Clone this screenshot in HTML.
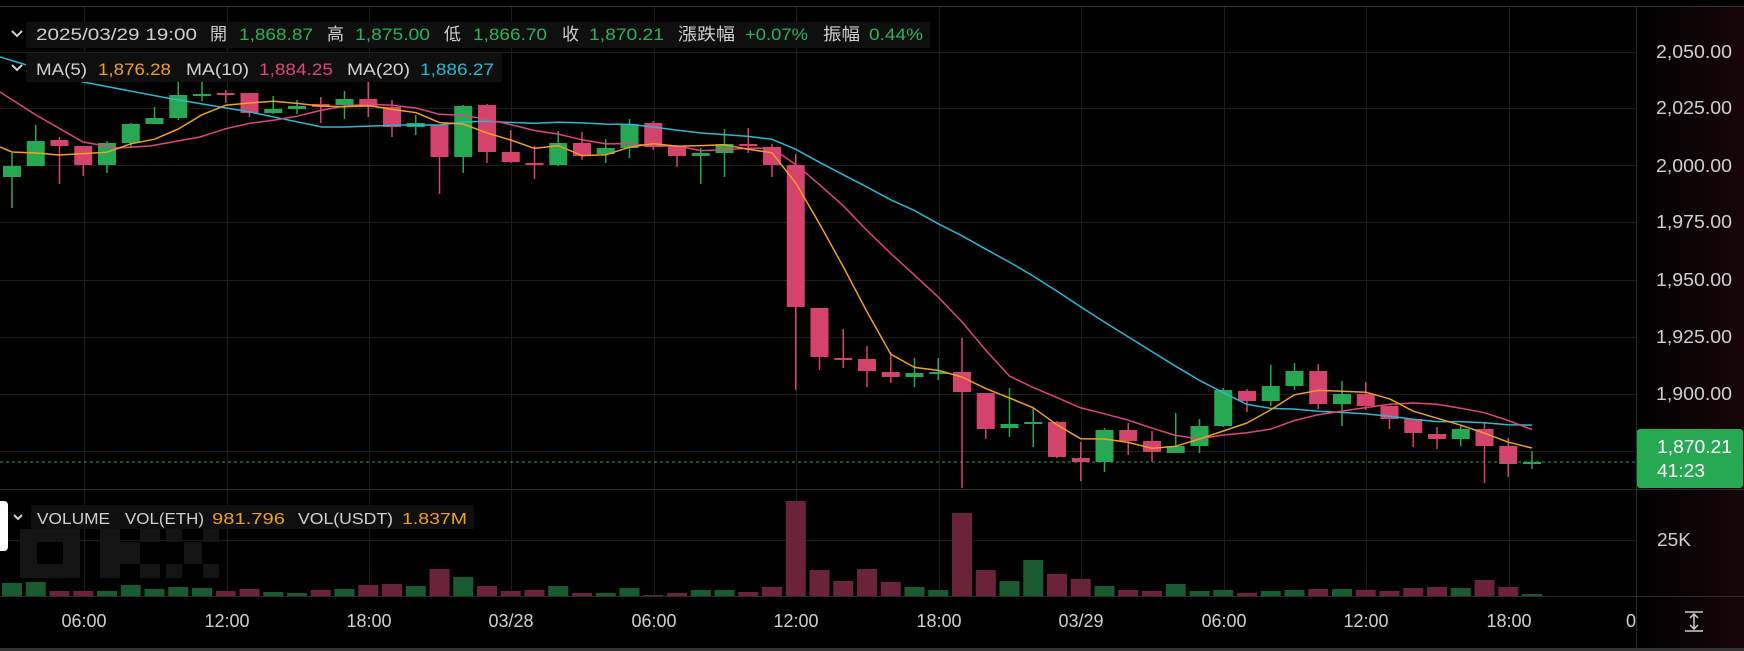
<!DOCTYPE html>
<html><head><meta charset="utf-8">
<style>
html,body{margin:0;padding:0;background:#000;width:1744px;height:651px;overflow:hidden}
svg{display:block}
text{font-family:"Liberation Sans","Noto Sans CJK TC",sans-serif}
</style></head>
<body>
<svg id="s" width="1744" height="651" viewBox="0 0 1744 651" xmlns="http://www.w3.org/2000/svg">
<defs>
<linearGradient id="ax" x1="0" x2="1" y1="0" y2="0">
<stop offset="0" stop-color="#000"/><stop offset="1" stop-color="#170609"/>
</linearGradient>
</defs>
<rect x="0" y="0" width="1744" height="651" fill="#000"/>
<rect x="1637" y="6" width="107" height="642" fill="url(#ax)"/>
<g id="grid"></g>
<!-- watermark -->
<g fill="#141414">
<rect x="20" y="529" width="60" height="49"/><rect x="100" y="529" width="20" height="49"/><rect x="120" y="542" width="20" height="22"/><rect x="140" y="529" width="20" height="13"/><rect x="140" y="564" width="20" height="14"/>
<rect x="166" y="529" width="16" height="13"/><rect x="203" y="529" width="16" height="13"/><rect x="184" y="542" width="18" height="22"/><rect x="166" y="564" width="16" height="14"/><rect x="203" y="564" width="16" height="14"/>
</g>
<rect x="37" y="542" width="26" height="22" fill="#000"/>
<g id="vol"></g>
<g id="cdl"></g>
<g id="ma" fill="none" stroke-width="1.5" stroke-linejoin="round"></g>
<line x1="0" y1="462" x2="1636" y2="462" stroke="#28a852" stroke-width="1" stroke-dasharray="3,3"/>
<!-- separators -->
<line x1="0" y1="6.5" x2="1744" y2="6.5" stroke="#333"/>
<line x1="0" y1="489.5" x2="1744" y2="489.5" stroke="#2c2c2c"/>
<line x1="0" y1="596.5" x2="1744" y2="596.5" stroke="#2c2c2c"/>
<line x1="1636.5" y1="6" x2="1636.5" y2="648" stroke="#2c2c2c"/>
<rect x="0" y="648" width="1744" height="3" fill="#333"/>
<!-- price axis -->
<g fill="#cfcfcf" font-size="18" text-anchor="end">
<text x="1732" y="58" textLength="76" lengthAdjust="spacingAndGlyphs">2,050.00</text>
<text x="1732" y="114" textLength="76" lengthAdjust="spacingAndGlyphs">2,025.00</text>
<text x="1732" y="172" textLength="76" lengthAdjust="spacingAndGlyphs">2,000.00</text>
<text x="1732" y="228" textLength="76" lengthAdjust="spacingAndGlyphs">1,975.00</text>
<text x="1732" y="286" textLength="76" lengthAdjust="spacingAndGlyphs">1,950.00</text>
<text x="1732" y="343" textLength="76" lengthAdjust="spacingAndGlyphs">1,925.00</text>
<text x="1732" y="400" textLength="76" lengthAdjust="spacingAndGlyphs">1,900.00</text>
<text x="1691" y="546" textLength="34" lengthAdjust="spacingAndGlyphs">25K</text>
</g>
<rect x="1637" y="429" width="106" height="59" rx="3" fill="#27a852"/>
<g fill="#fff" font-size="18">
<text x="1657" y="453" textLength="75" lengthAdjust="spacingAndGlyphs">1,870.21</text>
<text x="1657" y="477" textLength="48" lengthAdjust="spacingAndGlyphs">41:23</text>
</g>
<!-- time axis -->
<g fill="#cfcfcf" font-size="18" text-anchor="middle">
<text x="84" y="627">06:00</text><text x="227" y="627">12:00</text><text x="369" y="627">18:00</text>
<text x="511" y="627">03/28</text><text x="654" y="627">06:00</text><text x="796" y="627">12:00</text>
<text x="939" y="627">18:00</text><text x="1081" y="627">03/29</text><text x="1224" y="627">06:00</text>
<text x="1366" y="627">12:00</text><text x="1509" y="627">18:00</text>
<text x="1636" y="627" text-anchor="end">0</text>
</g>
<g stroke="#cfcfcf" stroke-width="1.5" fill="none">
<line x1="1685" y1="612" x2="1703" y2="612"/><line x1="1685" y1="631" x2="1703" y2="631"/>
<line x1="1694" y1="614" x2="1694" y2="629"/>
<polyline points="1690,618 1694,614 1698,618"/><polyline points="1690,625 1694,629 1698,625"/>
</g>
<!-- legends -->
<rect x="26" y="22" width="904" height="26" fill="#0f0f0f"/>
<rect x="26" y="53" width="476" height="29" fill="#0f0f0f"/>
<rect x="31" y="505" width="443" height="24" fill="#0f0f0f"/>
<g stroke="#d0d0d0" stroke-width="2" fill="none">
<polyline points="12,31 17,36 22,31"/>
<polyline points="12,65 17,70 22,65"/>
<polyline points="14,515 18,519 22,515"/>
</g>
<rect x="-6" y="501" width="14" height="50" rx="4" fill="#fff"/>
<g font-size="17">
<text x="36" y="40" fill="#d0d0d0" textLength="161" lengthAdjust="spacingAndGlyphs">2025/03/29 19:00</text>
<text x="210" y="40" fill="#d0d0d0">開</text>
<text x="239" y="40" fill="#2bb35b" textLength="74" lengthAdjust="spacingAndGlyphs">1,868.87</text>
<text x="327" y="40" fill="#d0d0d0">高</text>
<text x="355" y="40" fill="#2bb35b" textLength="75" lengthAdjust="spacingAndGlyphs">1,875.00</text>
<text x="444" y="40" fill="#d0d0d0">低</text>
<text x="473" y="40" fill="#2bb35b" textLength="74" lengthAdjust="spacingAndGlyphs">1,866.70</text>
<text x="562" y="40" fill="#d0d0d0">收</text>
<text x="589" y="40" fill="#2bb35b" textLength="75" lengthAdjust="spacingAndGlyphs">1,870.21</text>
<text x="678" y="40" fill="#d0d0d0" textLength="57" lengthAdjust="spacingAndGlyphs">漲跌幅</text>
<text x="745" y="40" fill="#2bb35b" textLength="63" lengthAdjust="spacingAndGlyphs">+0.07%</text>
<text x="823" y="40" fill="#d0d0d0" textLength="37" lengthAdjust="spacingAndGlyphs">振幅</text>
<text x="869" y="40" fill="#2bb35b" textLength="54" lengthAdjust="spacingAndGlyphs">0.44%</text>
<text x="36" y="75" fill="#d0d0d0" textLength="51" lengthAdjust="spacingAndGlyphs">MA(5)</text>
<text x="98" y="75" fill="#f0a022" textLength="73" lengthAdjust="spacingAndGlyphs">1,876.28</text>
<text x="186" y="75" fill="#d0d0d0" textLength="63" lengthAdjust="spacingAndGlyphs">MA(10)</text>
<text x="259" y="75" fill="#e0457b" textLength="74" lengthAdjust="spacingAndGlyphs">1,884.25</text>
<text x="347" y="75" fill="#d0d0d0" textLength="63" lengthAdjust="spacingAndGlyphs">MA(20)</text>
<text x="420" y="75" fill="#2cb8d4" textLength="74" lengthAdjust="spacingAndGlyphs">1,886.27</text>
</g>
<g font-size="16">
<text x="37" y="524" fill="#d0d0d0" textLength="73" lengthAdjust="spacingAndGlyphs">VOLUME</text>
<text x="125" y="524" fill="#d0d0d0" textLength="79" lengthAdjust="spacingAndGlyphs">VOL(ETH)</text>
<text x="212" y="524" fill="#f0a022" textLength="73" lengthAdjust="spacingAndGlyphs">981.796</text>
<text x="298" y="524" fill="#d0d0d0" textLength="95" lengthAdjust="spacingAndGlyphs">VOL(USDT)</text>
<text x="402" y="524" fill="#f0a022" textLength="65" lengthAdjust="spacingAndGlyphs">1.837M</text>
</g>
</svg>
<script>
var NS="http://www.w3.org/2000/svg";
function el(p,t,a){var e=document.createElementNS(NS,t);for(var k in a)e.setAttribute(k,a[k]);p.appendChild(e);return e;}
var g=document.getElementById('grid');
[52,108,165,222,280,337,394,451,540].forEach(function(y){el(g,'line',{x1:0,x2:1636,y1:y+.5,y2:y+.5,stroke:'#1c1c1c'});});
[84,227,369,511,654,796,939,1081,1224,1366,1509].forEach(function(x){el(g,'line',{x1:x+.5,x2:x+.5,y1:7,y2:596,stroke:'#1c1c1c'});});
var C=[
['g',166,177,153,208],['g',141,166,125,166],['r',140,146,137,184],['r',146,165,146,176],['g',143,165,141,173],
['g',124,143,123,148],['g',118,124,107,124],['g',95,118,79,120],['g',94,96,81,101],['r',93,95,90,103],
['r',93,113,93,117],['g',109,113,96,114],['g',106,109,100,114],['r',104,107,97,123],['g',99,105,91,119],
['r',99,107,82,117],['r',107,127,100,137],['g',123,127,115,135],['r',125,157,125,194],['g',106,157,105,173],
['r',105,152,104,163],['r',152,162,130,163],['r',163,165,146,179],['g',143,165,131,166],['r',143,156,132,160],
['g',148,154,139,163],['g',124,148,119,158],['r',123,147,121,150],['r',146,156,146,167],['g',153,156,148,184],
['g',144,153,129,177],['r',144,146,128,153],['r',147,165,144,177],['r',165,307,154,390],['r',308,357,308,370],
['r',358,359,329,368],['r',359,371,346,387],['r',372,377,352,383],['g',373,377,358,387],['g',372,373,358,380],
['r',372,392,338,488],['r',393,429,393,439],['g',424,428,388,437],['g',422,423,408,447],['r',422,457,421,458],
['r',458,462,442,481],['g',430,462,428,472],['r',430,441,423,455],['r',441,452,431,462],['g',446,453,413,453],
['g',426,446,419,453],['g',390,426,388,427],['r',391,401,389,412],['g',386,401,365,406],['g',371,386,363,390],
['r',371,404,364,409],['g',394,404,381,426],['r',394,406,382,410],['r',406,419,406,429],['r',419,433,419,447],
['r',434,439,427,449],['g',429,439,426,446],['r',429,446,423,483],['r',446,464,438,477],['g',462,464,451,469]];
var V=[13,14,5,5,5,11,7,9,8,5,7,4,3,6,7,11,12,10,27,19,10,5,6,10,3,3,8,1,3,6,6,4,9,95,26,15,27,14,9,6,83,26,15,36,22,17,10,6,5,12,5,6,3,5,6,7,7,6,5,8,9,8,16,9,2];
var cg=document.getElementById('cdl'),vg=document.getElementById('vol');
var X=function(i){return 12+23.75*i;};
var closes=[];
C.forEach(function(c,i){
 var x=X(i),col=c[0]=='g'?'#27a852':'#d4436c';
 el(cg,'line',{x1:x,x2:x,y1:c[3],y2:c[4],stroke:col,'stroke-width':1.5});
 var h=Math.max(2,c[2]-c[1]);
 el(cg,'rect',{x:x-9,y:c[1],width:18,height:h,fill:col});
 closes.push(c[0]=='g'?c[1]:c[2]);
 var vc=c[0]=='g'?'#1a5a30':'#6a2339';
 el(vg,'rect',{x:x-10,y:596-V[i],width:20,height:V[i],fill:vc});
});
function ma(n,hand,color){
 var pts=hand.slice();
 for(var i=n-1;i<closes.length;i++){var s=0;for(var j=i-n+1;j<=i;j++)s+=closes[j];pts.push([X(i),s/n]);}
 el(document.getElementById('ma'),'polyline',{points:pts.map(function(p){return p[0].toFixed(1)+','+p[1].toFixed(1);}).join(' '),stroke:color});
}
ma(20,[[0,57],[83,82],[167,98],[250,112],[322,127],[345,127],[400,125],[440,125]],'#2cb8d4');
ma(10,[[0,92],[36,115],[83,142],[117,148],[150,146],[200,137]],'#e0457b');
ma(5,[[0,147],[12,152],[36,153],[59,155]],'#f0a022');
</script>
</body></html>
